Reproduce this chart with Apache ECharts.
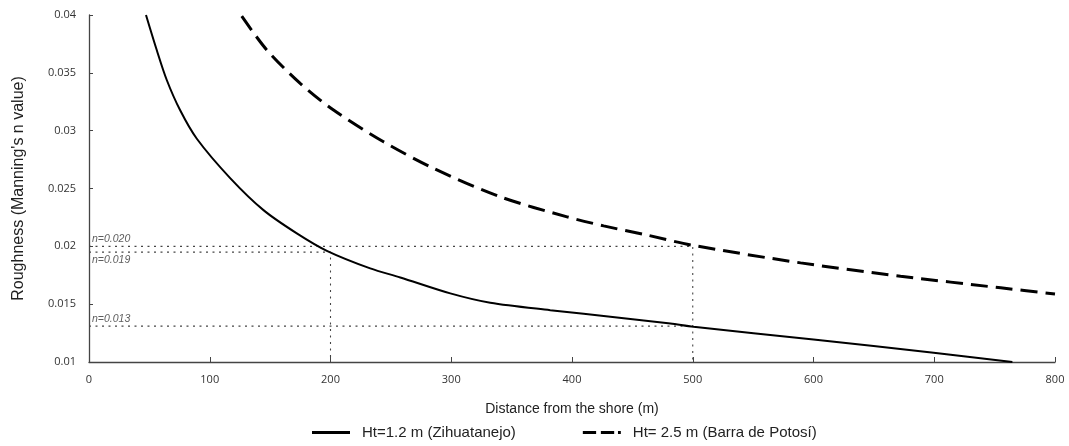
<!DOCTYPE html>
<html>
<head>
<meta charset="utf-8">
<script src="https://cdn.jsdelivr.net/npm/echarts@6/dist/echarts.min.js"></script>
<style>html,body{margin:0;padding:0;background:#fff;}#c{width:1069px;height:446px;}</style>
</head>
<body>
<div id="c"></div>
<script>
// Data
var zihuaX = [47.2, 56.1, 64.4, 75.4, 89.3, 116.9, 144.5, 172.1, 197, 232.9, 257.8, 299.2, 332.3, 382, 437.3, 481.5, 500.6, 600, 699.5, 764.7];
var zihuaY = [0.0400, 0.03697, 0.03438, 0.03178, 0.0293, 0.0259, 0.02313, 0.02112, 0.01961, 0.01809, 0.01731, 0.01593, 0.01512, 0.01448, 0.01385, 0.01333, 0.01304, 0.01195, 0.01079, 0.0100];
var barraX = [126.5, 147.3, 174.9, 202.5, 243.9, 285.4, 340.6, 395.9, 426.2, 462.2, 499.5, 589.3, 672.1, 755, 800];
var barraY = [0.0399, 0.03697, 0.03409, 0.03178, 0.02904, 0.02674, 0.02428, 0.02255, 0.02177, 0.02097, 0.0201, 0.01857, 0.01742, 0.01641, 0.01588];
var refLineA = [[0, 0.0200], [500, 0.0200], [500, 0.0100]];
var refLineB = [[0, 0.0195], [200, 0.0195], [200, 0.0100]];
var refLineC = [[0, 0.0131], [500, 0.0131]];
var refLabels = ['n=0.020', 'n=0.019', 'n=0.013'];
var refLabelY = [0.0200, 0.0195, 0.0131];
var seriesNames = ['Ht=1.2 m (Zihuatanejo)', 'Ht= 2.5 m (Barra de Potosí)'];

function pairs(xs, ys) { return xs.map(function (x, i) { return [x, ys[i]]; }); }

var chart = echarts.init(document.getElementById('c'));
var dotted = { color: '#444', width: 1.1, type: [2, 4.5] };
function refSeries(d) {
  return { type: 'line', data: d, symbol: 'none', silent: true, lineStyle: dotted, z: 1, legendHoverLink: false };
}
var labelPositions = ['top', 'bottom', 'top'];
chart.setOption({
  animation: false,
  backgroundColor: '#fff',
  grid: { left: 89, right: 14, top: 15, bottom: 84, containLabel: false },
  xAxis: {
    type: 'value', min: 0, max: 800, interval: 100,
    name: 'Distance from the shore (m)', nameLocation: 'middle', nameGap: 40,
    nameTextStyle: { fontFamily: 'Liberation Sans', fontSize: 14, color: '#222' },
    axisLine: { lineStyle: { color: '#444', width: 1.3 } },
    axisTick: { inside: true, length: 5, lineStyle: { color: '#444' } },
    axisLabel: { fontFamily: 'Open Sans', fontSize: 11, color: '#333', margin: 12 },
    splitLine: { show: false }
  },
  yAxis: {
    type: 'value', min: 0.01, max: 0.04, interval: 0.005,
    name: "Roughness (Manning's n value)", nameLocation: 'middle', nameGap: 62, nameRotate: 90,
    nameTextStyle: { fontFamily: 'Liberation Sans', fontSize: 16, color: '#222' },
    axisLine: { show: true, lineStyle: { color: '#444', width: 1.3 } },
    axisTick: { show: true, inside: true, length: 4, lineStyle: { color: '#444' } },
    axisLabel: { fontFamily: 'Open Sans', fontSize: 11, color: '#333', margin: 13 },
    splitLine: { show: false }
  },
  legend: {
    bottom: 1, left: 307, itemGap: 67, itemWidth: 38, itemHeight: 3,
    data: [
      { name: seriesNames[0], icon: 'path://M0,0h38v3h-38z' },
      { name: seriesNames[1], icon: 'path://M0,0h14v3h-14zM19,0h14v3h-14zM37,0h3v3h-3z' }
    ],
    itemStyle: { color: '#000' },
    textStyle: { fontFamily: 'Liberation Sans', fontSize: 15, color: '#222', padding: [0, 0, 0, 7] }
  },
  series: [
    refSeries(refLineA), refSeries(refLineB), refSeries(refLineC),
    {
      type: 'scatter', silent: true, symbolSize: 0, z: 2,
      data: refLabels.map(function (t, i) { return { value: [0, refLabelY[i]], label: { position: labelPositions[i] } }; }),
      label: {
        show: true, formatter: function (p) { return refLabels[p.dataIndex]; },
        align: 'left', offset: [3, 0], distance: 2,
        fontFamily: 'Liberation Sans', fontStyle: 'italic', fontSize: 10.5, color: '#333'
      }
    },
    {
      name: seriesNames[0], type: 'line', data: pairs(zihuaX, zihuaY), smooth: 0.3,
      symbol: 'none', lineStyle: { color: '#000', width: 2 }, itemStyle: { color: '#000' }, z: 3
    },
    {
      name: seriesNames[1], type: 'line', data: pairs(barraX, barraY), smooth: 0.3,
      symbol: 'none', lineStyle: { color: '#000', width: 3, type: [17, 8] }, itemStyle: { color: '#000' }, z: 3
    }
  ]
});
</script>
</body>
</html>
